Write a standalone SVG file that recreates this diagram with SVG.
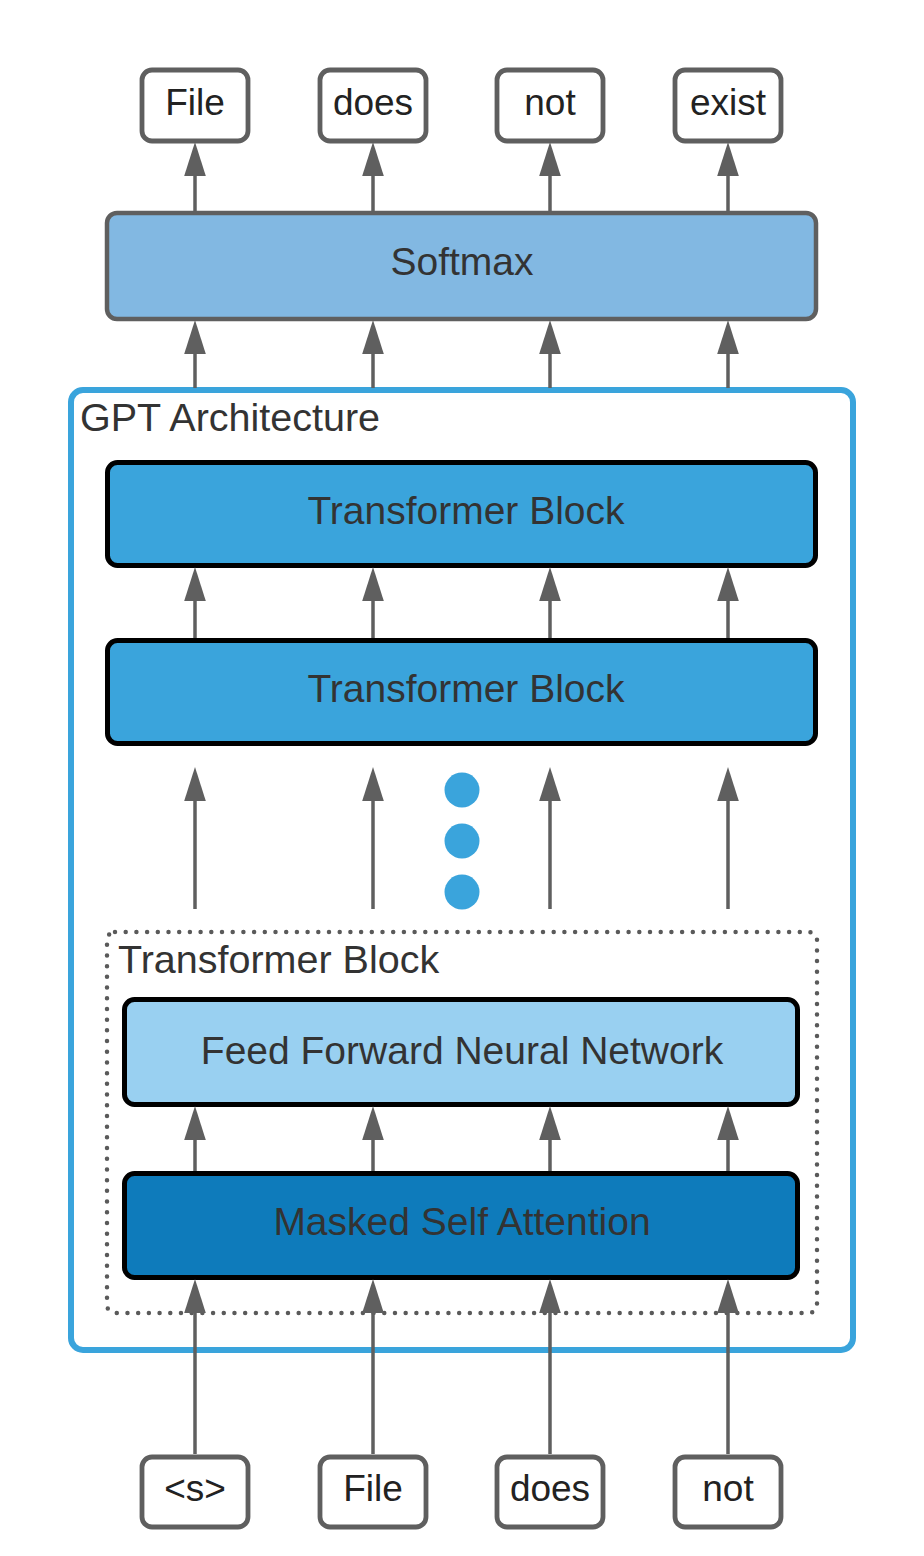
<svg xmlns="http://www.w3.org/2000/svg" width="924" height="1556" viewBox="0 0 924 1556">
<defs>
<style>
text{font-family:"Liberation Sans",Arial,sans-serif;fill:#333333}
.word{fill:#ffffff;stroke:#5f5f5f;stroke-width:4.8}
.wt{font-size:37px;text-anchor:middle;fill:#222222}
.blk{stroke:#000000;stroke-width:5}
.bt{font-size:39px;text-anchor:middle}
.lab{font-size:39.5px}
.conn line{stroke:#5f5f5f;stroke-width:3.5;marker-end:url(#ah)}
</style>
<marker id="ah" markerUnits="userSpaceOnUse" markerWidth="34" markerHeight="22" viewBox="0 0 33 21" refX="2" refY="10.5" orient="auto">
<path d="M0,0 L33,10.5 L0,21 Z" fill="#5f5f5f"/>
</marker>
</defs>
<rect width="924" height="1556" fill="#ffffff"/>

<g id="gpt-architecture">
<rect x="71" y="390" width="782" height="960" rx="12" fill="#ffffff" stroke="#3aa4dc" stroke-width="6"/>
<text class="lab" x="80" y="431">GPT Architecture</text>
</g>

<g id="softmax">
<rect x="107" y="213" width="709" height="106" rx="10" fill="#82b8e2" stroke="#5f5f5f" stroke-width="4.5"/>
<text class="bt" x="462" y="275">Softmax</text>
</g>

<g id="out-file"><rect class="word" x="142" y="70" width="106" height="71" rx="10"/><text class="wt" x="195" y="115">File</text></g>
<g id="out-does"><rect class="word" x="320" y="70" width="106" height="71" rx="10"/><text class="wt" x="373" y="115">does</text></g>
<g id="out-not"><rect class="word" x="497" y="70" width="106" height="71" rx="10"/><text class="wt" x="550" y="115">not</text></g>
<g id="out-exist"><rect class="word" x="675" y="70" width="106" height="71" rx="10"/><text class="wt" x="728" y="115">exist</text></g>

<g id="transformer-block-top">
<rect class="blk" x="107.5" y="462.5" width="708" height="103" rx="10" fill="#3aa4dc"/>
<text class="bt" x="466" y="524">Transformer Block</text>
</g>

<g id="transformer-block-2">
<rect class="blk" x="107.5" y="640.5" width="708" height="103" rx="10" fill="#3aa4dc"/>
<text class="bt" x="466" y="702">Transformer Block</text>
</g>

<g id="ellipsis" fill="#3aa4dc">
<circle cx="462" cy="790" r="17.5"/>
<circle cx="462" cy="841" r="17.5"/>
<circle cx="462" cy="892" r="17.5"/>
</g>

<g id="transformer-block-detail">
<rect x="107" y="932" width="710" height="381" rx="8" fill="none" stroke="#5a5a5a" stroke-width="4.5" stroke-linecap="round" stroke-dasharray="0 10.7"/>
<text class="lab" x="118" y="973">Transformer Block</text>
</g>

<g id="ffnn">
<rect class="blk" x="124.5" y="999.5" width="673" height="105" rx="10" fill="#99d0f1"/>
<text class="bt" x="462" y="1064">Feed Forward Neural Network</text>
</g>

<g id="masked-self-attention">
<rect class="blk" x="124.5" y="1173.5" width="673" height="104" rx="10" fill="#0e7bbb"/>
<text class="bt" x="462" y="1235">Masked Self Attention</text>
</g>

<g id="in-s"><rect class="word" x="142" y="1457" width="106" height="70" rx="10"/><text class="wt" x="195" y="1501">&lt;s&gt;</text></g>
<g id="in-file"><rect class="word" x="320" y="1457" width="106" height="70" rx="10"/><text class="wt" x="373" y="1501">File</text></g>
<g id="in-does"><rect class="word" x="497" y="1457" width="106" height="70" rx="10"/><text class="wt" x="550" y="1501">does</text></g>
<g id="in-not"><rect class="word" x="675" y="1457" width="106" height="70" rx="10"/><text class="wt" x="728" y="1501">not</text></g>

<g id="connectors" class="conn">
<line x1="195" y1="211" x2="195" y2="174"/>
<line x1="373" y1="211" x2="373" y2="174"/>
<line x1="550" y1="211" x2="550" y2="174"/>
<line x1="728" y1="211" x2="728" y2="174"/>

<line x1="195" y1="388" x2="195" y2="352"/>
<line x1="373" y1="388" x2="373" y2="352"/>
<line x1="550" y1="388" x2="550" y2="352"/>
<line x1="728" y1="388" x2="728" y2="352"/>

<line x1="195" y1="638" x2="195" y2="599"/>
<line x1="373" y1="638" x2="373" y2="599"/>
<line x1="550" y1="638" x2="550" y2="599"/>
<line x1="728" y1="638" x2="728" y2="599"/>

<line x1="195" y1="909" x2="195" y2="799"/>
<line x1="373" y1="909" x2="373" y2="799"/>
<line x1="550" y1="909" x2="550" y2="799"/>
<line x1="728" y1="909" x2="728" y2="799"/>

<line x1="195" y1="1171" x2="195" y2="1138"/>
<line x1="373" y1="1171" x2="373" y2="1138"/>
<line x1="550" y1="1171" x2="550" y2="1138"/>
<line x1="728" y1="1171" x2="728" y2="1138"/>

<line x1="195" y1="1454" x2="195" y2="1311"/>
<line x1="373" y1="1454" x2="373" y2="1311"/>
<line x1="550" y1="1454" x2="550" y2="1311"/>
<line x1="728" y1="1454" x2="728" y2="1311"/>
</g>
</svg>
